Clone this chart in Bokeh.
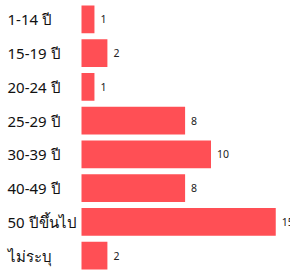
from bokeh.plotting import figure
from bokeh.models import ColumnDataSource, Range1d, FactorRange
from bokeh.core.properties import value
from bokeh.embed import file_html
from bokeh.resources import INLINE

categories = ["1-14 ปี", "15-19 ปี", "20-24 ปี", "25-29 ปี", "30-39 ปี", "40-49 ปี", "50 ปีขึ้นไป", "ไม่ระบุ"]
counts = [1, 2, 1, 8, 10, 8, 15, 2]
count_labels = [str(c) for c in counts]

src = ColumnDataSource(dict(cat=categories, n=counts, lab=count_labels, zero=[0] * len(counts)))

W, H = 290, 274
px_per_unit = 12.95
left_px = 81
x_range = Range1d(-left_px / px_per_unit, (W - left_px) / px_per_unit)
y_range = FactorRange(factors=list(reversed(categories)), range_padding=0.06,
                      range_padding_units="absolute")

p = figure(width=W, height=H, x_range=x_range, y_range=y_range,
           output_backend="svg", toolbar_location=None,
           min_border=0, min_border_left=0, min_border_right=0,
           min_border_top=0, min_border_bottom=0)
p.axis.visible = False
p.grid.visible = False
p.outline_line_color = None
p.background_fill_color = "white"
p.border_fill_color = "white"

p.hbar(y="cat", left=0, right="n", height=0.82, source=src,
       fill_color="#ff4f55", line_color=None)

p.text(x="zero", y="cat", text="cat", source=src, x_offset=-74,
       text_align="left", text_baseline="middle", text_font=value("Noto Sans"),
       text_font_size="15px", text_color="#111111")

p.text(x="n", y="cat", text="lab", source=src, x_offset=6,
       text_align="left", text_baseline="middle", text_font=value("Noto Sans"),
       text_font_size="10.5px", text_color="#222222")

open("out.html", "w").write(file_html(p, INLINE))
